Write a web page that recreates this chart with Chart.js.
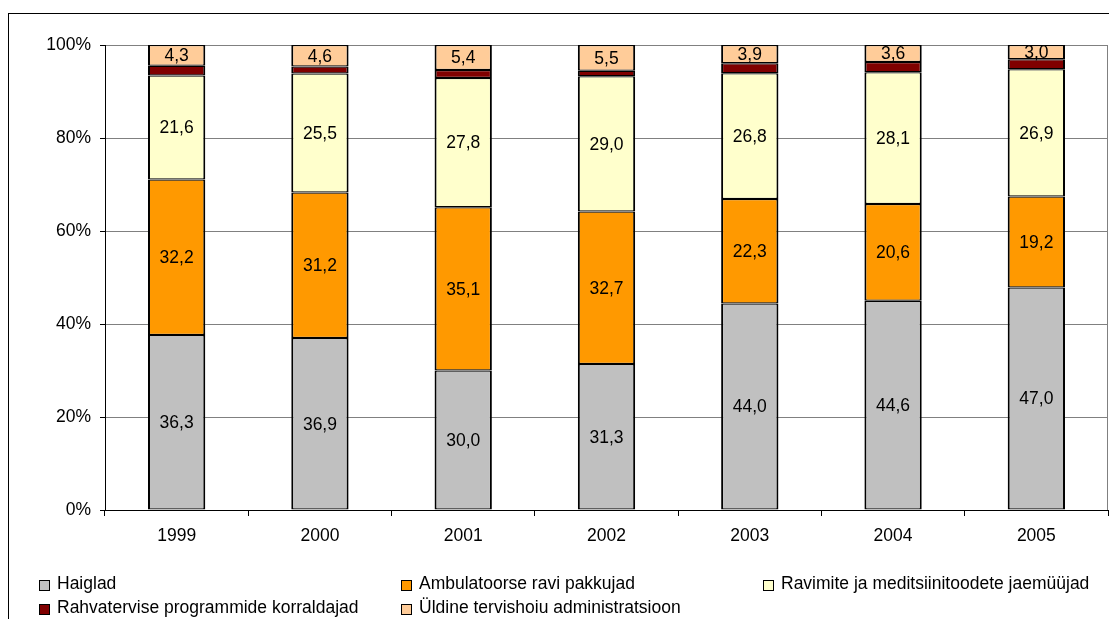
<!DOCTYPE html>
<html>
<head>
<meta charset="utf-8">
<script src="https://cdn.jsdelivr.net/npm/chart.js@4/dist/chart.umd.min.js"></script>
<style>
  html, body { margin: 0; padding: 0; background: #fff; overflow: hidden; }
  #wrap { position: relative; width: 1109px; height: 619px; }
  #frame { position: absolute; left: 8px; top: 13px; width: 1200px; height: 700px; border: 1px solid #000; }
  #liveChart { position: absolute; left: 0; top: 0; }
  .leg { position: absolute; height: 24px; line-height: 24px; font: 17.5px "Liberation Sans", Arial, sans-serif; color: #000; white-space: nowrap; }
  .leg span.box { position: absolute; left: 0; top: 7px; width: 9px; height: 9px; border: 1px solid #000; }
  .leg span.txt { position: absolute; left: 18px; top: 0; }
</style>
</head>
<body>
<div id="wrap">
  <div id="frame"></div>
  <canvas id="liveChart" width="1109" height="619"></canvas>
  <div id="legend"></div>
</div>
<script>
const years = ['1999', '2000', '2001', '2002', '2003', '2004', '2005'];
const haiglad = [36.3, 36.9, 30.0, 31.3, 44.0, 44.6, 47.0];
const ambulatoorse = [32.2, 31.2, 35.1, 32.7, 22.3, 20.6, 19.2];
const ravimid = [21.6, 25.5, 27.8, 29.0, 26.8, 28.1, 26.9];
const rahvatervis = [2.0, 1.5, 1.7, 1.2, 2.1, 2.2, 2.1];   // no labels in the picture
const administratsioon = [4.3, 4.6, 5.4, 5.5, 3.9, 3.6, 3.0];
const yTicks = [0, 20, 40, 60, 80, 100];

const seriesNames = [
    'Haiglad',
    'Ambulatoorse ravi pakkujad',
    'Ravimite ja meditsiinitoodete jaemüüjad',
    'Rahvatervise programmide korraldajad',
    'Üldine tervishoiu administratsioon'
];
const seriesValues = [haiglad, ambulatoorse, ravimid, rahvatervis, administratsioon];
const seriesColors = ['#C0C0C0', '#FF9900', '#FFFFCC', '#800000', '#FFCC99'];
const showLabels = [true, true, true, false, true];

const totals = years.map((y, i) => seriesValues.reduce((s, arr) => s + arr[i], 0));

Chart.defaults.font.family = '"Liberation Sans", Arial, sans-serif';
Chart.defaults.font.size = 17.5;
Chart.defaults.color = '#000';

const segmentLabels = {
    id: 'segmentLabels',
    afterDatasetsDraw(chart) {
        const ctx = chart.ctx;
        ctx.save();
        ctx.font = '17.5px "Liberation Sans", Arial, sans-serif';
        ctx.fillStyle = '#000';
        ctx.textAlign = 'center';
        ctx.textBaseline = 'middle';
        chart.data.datasets.forEach((ds, d) => {
            if (!showLabels[d]) return;
            chart.getDatasetMeta(d).data.forEach((bar, i) => {
                const text = seriesValues[d][i].toFixed(1).replace('.', ',');
                ctx.fillText(text, bar.x, (bar.y + bar.base) / 2 + 1);
            });
        });
        ctx.restore();
    }
};

const plotEdge = {
    id: 'plotEdge',
    beforeDatasetsDraw(chart) {
        const a = chart.chartArea;
        const ctx = chart.ctx;
        ctx.save();
        ctx.strokeStyle = '#808080';
        ctx.lineWidth = 1;
        ctx.beginPath();
        ctx.moveTo(a.right - 0.5, a.top);
        ctx.lineTo(a.right - 0.5, a.bottom);
        ctx.stroke();
        ctx.restore();
    }
};

const ctx = document.getElementById('liveChart').getContext('2d');
const chart = new Chart(ctx, {
    type: 'bar',
    data: {
        labels: years,
        datasets: seriesNames.map((name, d) => ({
            label: name,
            data: seriesValues[d].map((v, i) => v / totals[i] * 100),
            backgroundColor: seriesColors[d],
            borderColor: '#000',
            borderWidth: { top: 1.25, bottom: 1.25, left: 2, right: 2 },
            borderSkipped: false,
            categoryPercentage: 1,
            barPercentage: 0.4
        }))
    },
    options: {
        responsive: false,
        animation: false,
        devicePixelRatio: 1,
        layout: { padding: { top: 45, right: 1, left: 0, bottom: 0 } },
        plugins: {
            legend: { display: false },
            tooltip: { enabled: false }
        },
        scales: {
            x: {
                stacked: true,
                grid: { offset: true, drawOnChartArea: false, tickLength: 6, tickColor: '#000', color: '#000' },
                border: { color: '#000', width: 1 },
                ticks: { padding: 10, maxRotation: 0 },
                afterFit: (scale) => { scale.height = 109; }
            },
            y: {
                stacked: true,
                min: 0,
                max: 100,
                afterBuildTicks: (scale) => { scale.ticks = yTicks.map(v => ({ value: v })); },
                ticks: { padding: 9, callback: (v) => v + '%' },
                grid: { color: '#808080', tickColor: '#000', tickLength: 5, lineWidth: 1 },
                border: { color: '#000', width: 1 },
                afterFit: (scale) => { scale.width = 105; }
            }
        }
    },
    plugins: [plotEdge, segmentLabels]
});

// legend in three columns, like the original
const legendBox = document.getElementById('legend');
const colX = [39, 401, 763];
const rowY = [573, 597];
chart.data.datasets.forEach((ds, d) => {
    const item = document.createElement('div');
    item.className = 'leg';
    item.style.left = colX[d % 3] + 'px';
    item.style.top = rowY[Math.floor(d / 3)] + 'px';
    const box = document.createElement('span');
    box.className = 'box';
    box.style.background = ds.backgroundColor;
    const txt = document.createElement('span');
    txt.className = 'txt';
    txt.textContent = ds.label;
    item.appendChild(box);
    item.appendChild(txt);
    legendBox.appendChild(item);
});
</script>
</body>
</html>
